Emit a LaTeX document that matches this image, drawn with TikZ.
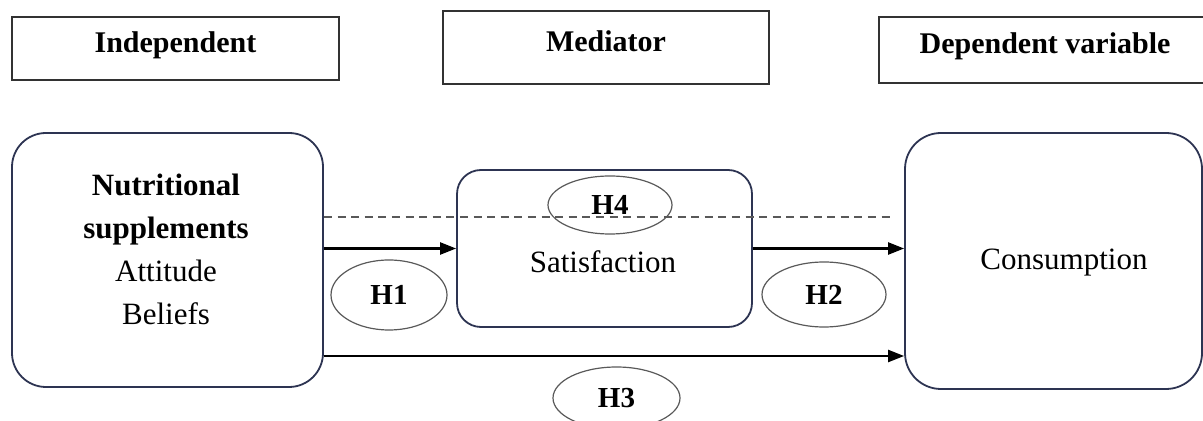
\documentclass[tikz,border=0pt]{standalone}
\usepackage{fontspec}
\setmainfont{Liberation Serif}
\usetikzlibrary{arrows.meta,shapes.geometric}
\definecolor{boxblue}{RGB}{45,52,82}
\definecolor{framegray}{RGB}{50,50,50}
\begin{document}
\begin{tikzpicture}[x=0.5pt,y=-0.5pt,
    headbox/.style={draw=framegray,line width=1.4pt,inner sep=0pt,text height=10.5pt,text depth=6.5pt,font=\fontsize{15}{18}\selectfont\bfseries},
    varbox/.style={draw=boxblue,line width=0.9pt,rounded corners=17pt,inner sep=0pt},
    vartext/.style={font=\fontsize{15.5}{21.5}\selectfont,align=center},
    hypo/.style={ellipse,draw=black!65,line width=0.6pt,inner sep=0pt,font=\fontsize{14.5}{17}\selectfont\bfseries},
    arr/.style={-{Triangle[length=8pt,width=6pt]},line width=1.1pt},
    dashline/.style={draw=black!65,line width=0.8pt,dash pattern=on 4pt off 2.8pt}]
      \useasboundingbox (0,0) rectangle (1203,421);
      \node (indep) at (175.5,48.5) [headbox,minimum width=163.5pt,minimum height=31.5pt] {Independent};
      \node (medi) at (606,47.5) [headbox,minimum width=163pt,minimum height=36.5pt] {Mediator};
      \node (dep) at (1047,50) [headbox,minimum width=168pt,minimum height=33pt] {\hspace*{-2pt}Dependent variable};
      \node (nutri) at (167.5,260) [varbox,minimum width=155.5pt,minimum height=127pt] {};
      \node (nutritxt) at (166,249) [vartext] {\textbf{Nutritional}\\\textbf{supplements}\\Attitude\\Beliefs};
      \node (satis) at (604.5,248.5) [varbox,rounded corners=12pt,minimum width=147.5pt,minimum height=78.5pt] {};
      \node (satistxt) at (603,262) [vartext] {Satisfaction};
      \node (cons) at (1053.5,261) [varbox,rounded corners=18pt,minimum width=148.5pt,minimum height=128pt] {};
      \node (constxt) at (1064,263) [vartext] {Consumption};
      \coordinate (dash) at (0,217);
      \coordinate (low) at (0,356);
      \draw [dashline](nutri.east |- dash)--([xshift=-6pt]cons.west |- dash);
      \draw [arr](nutri.east |- satis.west)--(satis.west);
      \draw [arr](satis.east)--(satis.east -| cons.west);
      \draw [arr](nutri.east |- low)--(cons.west |- low);
      \node (h1) at (389,295) [hypo,minimum width=58pt,minimum height=35pt] {H1};
      \node (h2) at (824,294.5) [hypo,minimum width=62pt,minimum height=32.5pt] {H2};
      \node (h3) at (616.5,398) [hypo,minimum width=63.5pt,minimum height=31pt] {H3};
      \node (h4) at (610,205) [hypo,minimum width=62pt,minimum height=29pt] {H4};
    \end{tikzpicture}
\end{document}
